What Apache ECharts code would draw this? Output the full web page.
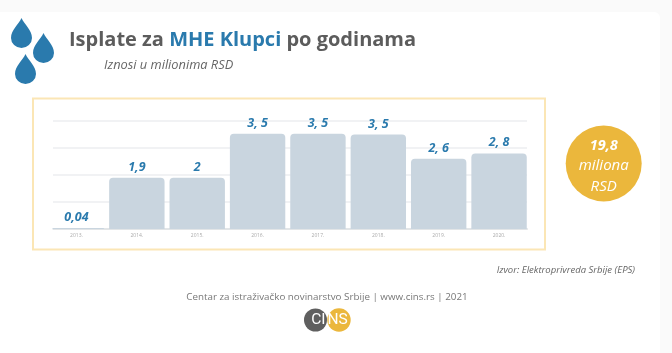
<!DOCTYPE html>
<html lang="en">
<head>
	<meta charset="UTF-8">
	<title>Isplate za MHE Klupci po godinama</title>
	<script src="https://cdn.jsdelivr.net/npm/echarts@6/dist/echarts.min.js"></script>
	<style>
		html, body { margin: 0; padding: 0; background: #fff; }
		#main { width: 672px; height: 353px; }
	</style>
</head>
<body>
	<div id="main"></div>
	<script>
		var years = ['2013.', '2014.', '2015.', '2016.', '2017.', '2018.', '2019.', '2020.'];
		// bar heights as drawn (2015 is drawn level with 2014 in the original)
		var values = [0.04, 1.9, 1.9, 3.53, 3.53, 3.5, 2.6, 2.8];
		var valueLabels = ['0,04', '1,9', '2', '3, 5', '3, 5', '3, 5', '2, 6', '2, 8'];
		var yTicks = [0, 1, 2, 3, 4];

		var font = '"Open Sans", sans-serif';
		var blue = '#2a7aad';

		echarts.graphic.registerShape('drop', echarts.graphic.extendPath(
			'M10.5 0 C13 6 21 12 21 20 A10.5 10 0 0 1 0 20 C0 12 8 6 10.5 0 Z', {}));

		function dropAt(x, y) {
			return { type: 'drop', x: x, y: y, z: 5, style: { fill: blue } };
		}
		function text(x, y, str, size, color, align, italic, weight, family) {
			return { type: 'text', x: x, y: y, z: 6,
				style: { text: str, fill: color, align: align || 'left', verticalAlign: 'middle',
					font: (italic ? 'italic ' : '') + (weight || 400) + ' ' + size + 'px ' + (family || font) } };
		}

		var chart = echarts.init(document.getElementById('main'));
		chart.setOption({
			animation: false,
			backgroundColor: '#fff',
			grid: { left: 53, width: 474, top: 121, height: 108 },
			xAxis: {
				type: 'value',
				min: -0.389,
				max: 7.463,
				splitLine: { show: false },
				axisTick: { show: false },
				axisLine: { show: true, onZero: false, lineStyle: { color: '#e2e5e7', width: 2 } },
				axisLabel: {
					customValues: years.map(function (y, i) { return i; }),
					formatter: function (v) { return years[v]; },
					color: '#aaa', fontSize: 5, fontFamily: font, margin: 4,
					showMinLabel: true, showMaxLabel: true
				}
			},
			yAxis: {
				type: 'value',
				min: yTicks[0],
				max: yTicks[yTicks.length - 1],
				interval: 1,
				axisLine: { show: false },
				axisTick: { show: false },
				axisLabel: { show: false },
				splitLine: { lineStyle: { color: '#eceef0', width: 1.5 } }
			},
			series: [{
				type: 'bar',
				barWidth: 55.4,
				data: values.map(function (v, i) { return [i, v]; }),
				itemStyle: { color: '#c9d5df', borderRadius: [4, 4, 0, 0] },
				label: {
					show: true,
					position: 'top',
					distance: 4,
					formatter: function (p) { return valueLabels[p.dataIndex]; },
					color: blue,
					fontFamily: font,
					fontStyle: 'italic',
					fontWeight: 700,
					fontSize: 12.5
				},
				z: 3
			}],
			graphic: [
				// page backdrop and card
				{ type: 'rect', z: -10, shape: { x: 0, y: 0, width: 672, height: 353 }, style: { fill: '#fafafa' } },
				{ type: 'rect', z: -9, shape: { x: -10, y: 12, width: 670, height: 360, r: 6 }, style: { fill: '#fff' } },
				{ type: 'rect', z: -8, shape: { x: 33, y: 98.5, width: 512, height: 151 },
					style: { fill: '#fff', stroke: '#fbe6b5', lineWidth: 2 } },
				// the first bar starts at the plot edge in the original
				{ type: 'rect', z: 5, shape: { x: 44, y: 224, width: 8.5, height: 8 }, style: { fill: '#fff' } },
				dropAt(11, 18), dropAt(33, 33), dropAt(15, 54),
				{ type: 'text', x: 69, y: 40, z: 6, style: {
					text: '{a|Isplate za }{b|MHE Klupci}{a| po godinama}',
					verticalAlign: 'middle',
					rich: {
						a: { fill: '#5c5c5c', font: '700 20px ' + font },
						b: { fill: blue, font: '700 20px ' + font }
					}
				} },
				text(104, 65, 'Iznosi u milionima RSD', 12.8, '#666', 'left', true),
				{ type: 'circle', z: 5, shape: { cx: 603.7, cy: 163.5, r: 38 }, style: { fill: '#ebb73c' } },
				text(603.7, 146, '19,8', 14.5, '#fff', 'center', true, 700),
				text(603.7, 166, 'miliona', 15, '#fff', 'center', true),
				text(603.7, 186.5, 'RSD', 15, '#fff', 'center', true),
				text(635, 270, 'Izvor: Elektroprivreda Srbije (EPS)', 9.5, '#666', 'right', true),
				text(327, 297, 'Centar za istraživačko novinarstvo Srbije | www.cins.rs | 2021', 9.8, '#777', 'center'),
				{ type: 'circle', z: 5, shape: { cx: 315.5, cy: 320, r: 11.5 }, style: { fill: '#5f5f5f' } },
				{ type: 'circle', z: 5, shape: { cx: 339, cy: 320, r: 11.7 }, style: { fill: '#ebb73c' } },
				text(325.5, 320, 'CI', 15.5, '#fff', 'right', false, 400, 'Roboto, sans-serif'),
				text(327.5, 320, 'NS', 15.5, '#fff', 'left', false, 400, 'Roboto, sans-serif')
			]
		});
	</script>
</body>
</html>
